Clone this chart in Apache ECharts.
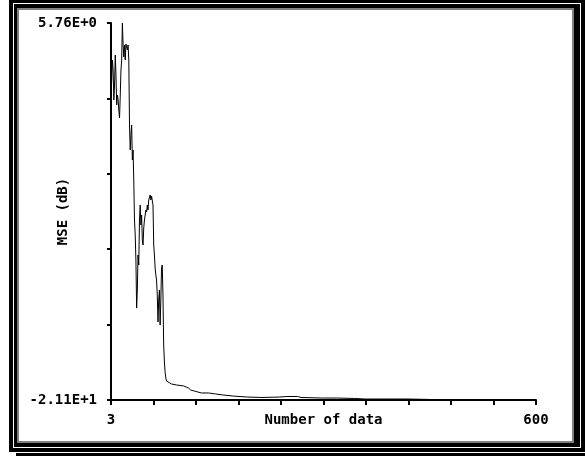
<!DOCTYPE html>
<html>
<head>
<meta charset="utf-8">
<script src="https://cdn.jsdelivr.net/npm/echarts/dist/echarts.min.js"></script>
<style>
  html, body { margin: 0; padding: 0; background: #fff; overflow: hidden; }
  .frame { position: absolute; box-sizing: border-box; }
  #outer { left: 9px; top: 0; width: 576px; height: 452px; background: #000; }
  #shadow { left: 16px; top: 453px; width: 569px; height: 3px; background: #000; }
  #line { left: 13px; top: 3px; width: 568px; height: 445px; border: 1px solid #fff; }
  #panel { left: 17px; top: 8px; width: 557px; height: 435px; border: 2px solid #808080; background: #fff; }
  #myChart { position: absolute; left: 0; top: 0; width: 585px; height: 456px; }
</style>
</head>
<body>
<div class="frame" id="outer"></div>
<div class="frame" id="shadow"></div>
<div class="frame" id="line"></div>
<div class="frame" id="panel"></div>
<div id="myChart"></div>
<script>
// sample index (number of data) and MSE in dB
var numData = [
  3, 4, 5, 6, 7, 8, 9, 10, 11, 12, 13, 14, 15, 16, 17, 18, 19, 20,
  21, 22, 23, 24, 25, 26, 27, 28, 29, 30, 31, 32, 33, 34, 35, 36, 37, 38, 39, 40,
  41, 42, 43, 44, 45, 46, 47, 48, 49, 50, 51, 52, 53, 54, 55, 56, 57, 58, 59, 60,
  61, 62, 63, 64, 65, 66, 67, 68, 69, 70, 71, 72, 73, 74, 75, 76, 77, 78, 79, 80, 81,
  83, 88, 95, 105, 112, 115, 120, 125, 130, 140, 150, 160, 175, 195, 215, 240,
  250, 265, 270, 300, 320, 345, 360, 420, 450, 470, 600
]
var mseData = [
  0.63, 1.70, 3.12, 2.41, 0.27, 1.34, 3.48, 2.06, -0.08, 0.63, 0.27, -0.44, -1.01, 0.63, 2.41, 3.12, 5.76, 4.19,
  3.34, 4.19, 3.12, 4.26, 4.34, 3.84, 4.19, 3.12, -1.51, -3.29, -2.22, -1.51, -4.00, -3.29, -5.43, -8.28, -9.34, -11.13, -14.55, -13.26,
  -10.77, -11.48, -8.28, -7.21, -8.63, -7.92, -9.70, -10.06, -8.85, -8.28, -7.92, -7.56, -7.71, -7.21, -7.56, -6.85, -6.71, -6.49, -6.85, -6.57,
  -6.49, -7.21, -10.06, -10.77, -11.70, -12.19, -12.55, -13.62, -15.54, -13.98, -13.26, -15.76, -13.98, -11.70, -11.48, -13.62, -17.18, -18.39, -19.11, -19.53, -19.75,
  -19.89, -19.96, -20.03, -20.10, -20.25, -20.39, -20.46, -20.53, -20.60, -20.60, -20.67, -20.74, -20.82, -20.89, -20.92, -20.89,
  -20.85, -20.85, -20.92, -20.96, -20.96, -20.99, -21.03, -21.03, -21.06, -21.10, -21.10
]
var xTickLabels = ['3', '600']
var yTickLabels = ['-2.11E+1', '5.76E+0']
var xName = 'Number of data'
var yName = 'MSE (dB)'

var font = 'DejaVu Sans Mono'
var textStyle = { fontFamily: font, fontWeight: 'bold', fontSize: 14, color: '#000' }

var seriesData = numData.map(function (n, i) { return [n, mseData[i]] })

var myChart = echarts.init(document.getElementById('myChart'))
var option = {
  animation: false,
  grid: { left: 111, right: 49, top: 23, bottom: 56, containLabel: false, outerBoundsMode: 'none' },
  xAxis: [
    { type: 'value', min: Number(xTickLabels[0]), max: Number(xTickLabels[1]), show: false },
    {
      type: 'value', min: 0, max: 10, interval: 1, position: 'bottom',
      axisLine: { lineStyle: { color: '#000', width: 2 } },
      axisTick: { length: 5, lineStyle: { color: '#000', width: 2 } },
      splitLine: { show: false },
      axisLabel: Object.assign({
        margin: 13, showMinLabel: true, showMaxLabel: true,
        formatter: function (v) { return v === 0 ? xTickLabels[0] : (v === 10 ? xTickLabels[1] : '') }
      }, textStyle),
      name: xName, nameLocation: 'middle', nameGap: 13, nameMoveOverlap: false,
      nameTextStyle: textStyle
    }
  ],
  yAxis: [
    { type: 'value', min: Number(yTickLabels[0]), max: Number(yTickLabels[1]), show: false },
    {
      type: 'value', min: 0, max: 5, interval: 1, position: 'left',
      axisLine: { show: true, lineStyle: { color: '#000', width: 2 } },
      axisTick: { show: true, length: 4, lineStyle: { color: '#000', width: 2 } },
      splitLine: { show: false },
      axisLabel: Object.assign({
        margin: 14, showMinLabel: true, showMaxLabel: true,
        formatter: function (v) { return v === 0 ? yTickLabels[0] : (v === 5 ? yTickLabels[1] : '') }
      }, textStyle),
      name: yName, nameLocation: 'middle', nameGap: 41, nameRotate: 90, nameMoveOverlap: false,
      nameTextStyle: textStyle
    }
  ],
  series: [{
    type: 'line',
    xAxisIndex: 0,
    yAxisIndex: 0,
    data: seriesData,
    showSymbol: false,
    lineStyle: { color: '#000', width: 1 },
    z: 3
  }]
}
myChart.setOption(option, true)
</script>
</body>
</html>
